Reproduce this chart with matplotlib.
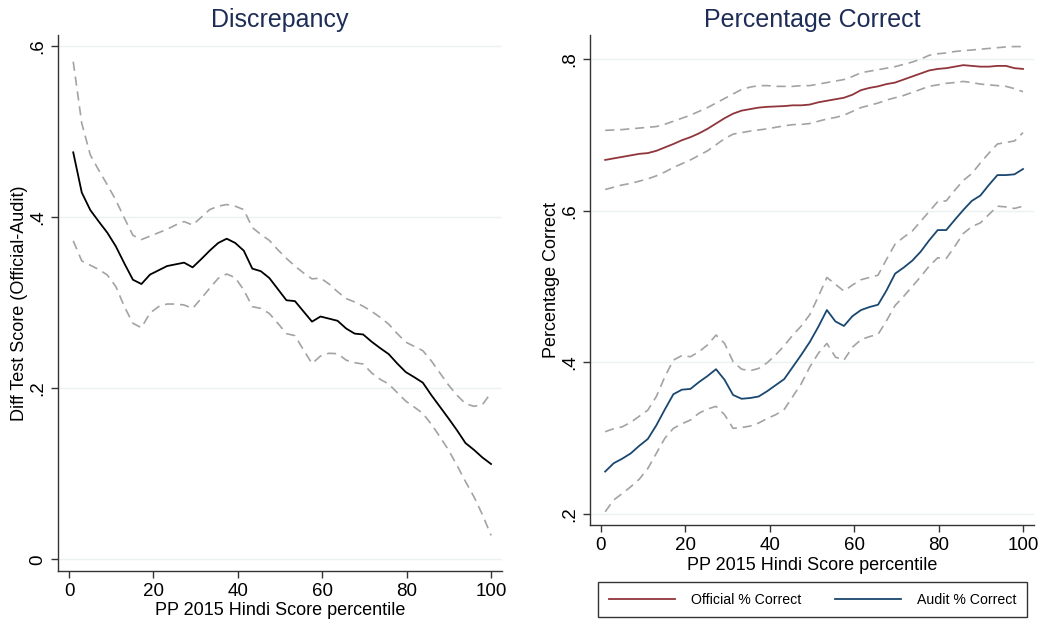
import numpy as np
import matplotlib
matplotlib.use("Agg")
import matplotlib.pyplot as plt

plt.rcParams['font.family'] = ['Liberation Sans', 'DejaVu Sans']

# percentile grid (50 points from 1 to 100)
pct = np.linspace(1, 100, 50)

# discrepancy: official minus audit score, with 95% band
diff_mean = [0.476, 0.429, 0.4085, 0.395, 0.382, 0.366, 0.346, 0.327, 0.322, 0.333,
             0.338, 0.343, 0.345, 0.347, 0.3415, 0.351, 0.361, 0.370, 0.375, 0.370,
             0.361, 0.340, 0.337, 0.329, 0.316, 0.303, 0.302, 0.290, 0.278, 0.284,
             0.2815, 0.279, 0.270, 0.264, 0.263, 0.2545, 0.247, 0.240, 0.229, 0.219,
             0.213, 0.2066, 0.192, 0.1785, 0.165, 0.151, 0.136, 0.128, 0.119, 0.1115]
diff_hi = [0.582, 0.51, 0.473, 0.455, 0.438, 0.42, 0.399, 0.379, 0.374, 0.378,
           0.382, 0.386, 0.391, 0.395, 0.391, 0.40, 0.409, 0.413, 0.415, 0.413,
           0.409, 0.388, 0.380, 0.373, 0.362, 0.352, 0.343, 0.335, 0.328, 0.329,
           0.322, 0.313, 0.305, 0.301, 0.296, 0.290, 0.283, 0.275, 0.264, 0.254,
           0.249, 0.244, 0.232, 0.218, 0.204, 0.192, 0.182, 0.179, 0.181, 0.195]
diff_lo = [0.3725, 0.349, 0.344, 0.339, 0.3325, 0.319, 0.2955, 0.276, 0.271, 0.288,
           0.2955, 0.2986, 0.2986, 0.2975, 0.2935, 0.305, 0.317, 0.3286, 0.3337, 0.3294,
           0.315, 0.2955, 0.2935, 0.2875, 0.276, 0.264, 0.2616, 0.245, 0.229, 0.2378,
           0.241, 0.2405, 0.233, 0.230, 0.2284, 0.218, 0.2105, 0.205, 0.195, 0.185,
           0.178, 0.1707, 0.158, 0.1434, 0.128, 0.110, 0.091, 0.073, 0.052, 0.028]

# share correct, official records
off_mean = [0.667, 0.669, 0.671, 0.673, 0.675, 0.676, 0.679, 0.6835, 0.688, 0.693,
            0.697, 0.702, 0.708, 0.715, 0.722, 0.728, 0.732, 0.734, 0.736, 0.737,
            0.7375, 0.738, 0.739, 0.739, 0.740, 0.743, 0.745, 0.747, 0.749, 0.753,
            0.759, 0.762, 0.764, 0.767, 0.769, 0.773, 0.777, 0.781, 0.785, 0.787,
            0.788, 0.790, 0.792, 0.791, 0.790, 0.790, 0.791, 0.791, 0.788, 0.787]
off_hi = [0.706, 0.7065, 0.707, 0.708, 0.709, 0.710, 0.711, 0.714, 0.718, 0.722,
          0.726, 0.731, 0.736, 0.742, 0.748, 0.754, 0.760, 0.763, 0.765, 0.765,
          0.764, 0.764, 0.764, 0.765, 0.765, 0.767, 0.769, 0.771, 0.773, 0.777,
          0.782, 0.784, 0.786, 0.788, 0.790, 0.793, 0.796, 0.800, 0.805, 0.807,
          0.808, 0.810, 0.811, 0.812, 0.813, 0.814, 0.815, 0.816, 0.8165, 0.8165]
off_lo = [0.628, 0.631, 0.634, 0.636, 0.639, 0.642, 0.646, 0.651, 0.657, 0.662,
          0.667, 0.673, 0.679, 0.687, 0.695, 0.701, 0.703, 0.705, 0.7065, 0.708,
          0.710, 0.712, 0.7135, 0.7138, 0.715, 0.718, 0.721, 0.723, 0.726, 0.731,
          0.736, 0.739, 0.742, 0.746, 0.749, 0.752, 0.756, 0.760, 0.764, 0.766,
          0.768, 0.769, 0.7705, 0.769, 0.767, 0.766, 0.765, 0.764, 0.761, 0.757]

# share correct, audit retest
aud_mean = [0.256, 0.267, 0.273, 0.280, 0.290, 0.299, 0.317, 0.338, 0.358, 0.364,
            0.365, 0.374, 0.382, 0.391, 0.377, 0.357, 0.352, 0.353, 0.355, 0.362,
            0.370, 0.378, 0.394, 0.410, 0.427, 0.447, 0.469, 0.454, 0.448, 0.461,
            0.469, 0.473, 0.476, 0.495, 0.517, 0.525, 0.534, 0.546, 0.561, 0.5745,
            0.5745, 0.588, 0.601, 0.613, 0.620, 0.634, 0.647, 0.647, 0.648, 0.655]
aud_hi = [0.3085, 0.3125, 0.315, 0.321, 0.329, 0.337, 0.355, 0.381, 0.403, 0.409,
          0.4075, 0.414, 0.423, 0.436, 0.425, 0.401, 0.391, 0.389, 0.392, 0.3995,
          0.410, 0.422, 0.436, 0.448, 0.463, 0.487, 0.512, 0.503, 0.494, 0.502,
          0.509, 0.512, 0.515, 0.536, 0.556, 0.565, 0.573, 0.586, 0.599, 0.612,
          0.613, 0.627, 0.640, 0.649, 0.663, 0.676, 0.688, 0.690, 0.692, 0.703]
aud_lo = [0.203, 0.2185, 0.227, 0.236, 0.246, 0.260, 0.280, 0.300, 0.313, 0.319,
          0.324, 0.333, 0.3385, 0.342, 0.331, 0.313, 0.314, 0.316, 0.320, 0.326,
          0.331, 0.338, 0.355, 0.372, 0.394, 0.412, 0.425, 0.407, 0.403, 0.420,
          0.430, 0.434, 0.437, 0.455, 0.475, 0.487, 0.500, 0.513, 0.527, 0.538,
          0.537, 0.553, 0.570, 0.579, 0.584, 0.595, 0.606, 0.605, 0.603, 0.606]

NAVY = '#1A476F'
MAROON = '#90353B'
CI_GRAY = '#A3A3A3'
GRID = '#EAF2F3'
TITLE_COL = '#1E2D58'
DASH = (0, (5.5, 3.5))
TICK_FS = 13.5
LABEL_FS = 13


def style_axis(ax):
    ax.spines['top'].set_visible(False)
    ax.spines['right'].set_visible(False)
    for s in ('left', 'bottom'):
        ax.spines[s].set_color('#333333')
        ax.spines[s].set_linewidth(1.0)
    ax.grid(axis='y', color=GRID, linewidth=1.0)
    ax.set_axisbelow(True)
    ax.tick_params(direction='out', length=5, width=1.0, color='#333333',
                   labelsize=TICK_FS, pad=3.5)
    for lab in ax.get_yticklabels():
        lab.set_rotation(90)
        lab.set_va('center')
    ax.set_xticks([0, 20, 40, 60, 80, 100])
    ax.set_xlim(-2.6, 102.6)


fig = plt.figure(figsize=(10.42, 6.2), dpi=100)
ax1 = fig.add_axes([0.0557, 0.0795, 0.4261, 0.864])
ax2 = fig.add_axes([0.5662, 0.1527, 0.4261, 0.7908])

# left: discrepancy
ax1.plot(pct, diff_hi, color=CI_GRAY, lw=1.2, linestyle=DASH)
ax1.plot(pct, diff_lo, color=CI_GRAY, lw=1.2, linestyle=DASH)
ax1.plot(pct, diff_mean, color='black', lw=1.3)
ax1.set_ylim(-0.0133, 0.6132)
ax1.set_yticks([0, 0.2, 0.4, 0.6])
ax1.set_yticklabels(['0', '.2', '.4', '.6'])
style_axis(ax1)
ax1.set_title('Discrepancy', fontsize=18, color=TITLE_COL, pad=6)
ax1.set_xlabel('PP 2015 Hindi Score percentile', fontsize=LABEL_FS, labelpad=2)
ax1.set_ylabel('Diff Test Score (Official-Audit)', fontsize=LABEL_FS, labelpad=1)

# right: share correct
ax2.plot(pct, off_hi, color=CI_GRAY, lw=1.2, linestyle=DASH)
ax2.plot(pct, off_lo, color=CI_GRAY, lw=1.2, linestyle=DASH)
ax2.plot(pct, aud_hi, color=CI_GRAY, lw=1.2, linestyle=DASH)
ax2.plot(pct, aud_lo, color=CI_GRAY, lw=1.2, linestyle=DASH)
l_off, = ax2.plot(pct, off_mean, color=MAROON, lw=1.3, label='Official % Correct')
l_aud, = ax2.plot(pct, aud_mean, color=NAVY, lw=1.3, label='Audit % Correct')
ax2.set_ylim(0.1851, 0.8317)
ax2.set_yticks([0.2, 0.4, 0.6, 0.8])
ax2.set_yticklabels(['.2', '.4', '.6', '.8'])
style_axis(ax2)
ax2.set_title('Percentage Correct', fontsize=18, color=TITLE_COL, pad=6)
ax2.set_xlabel('PP 2015 Hindi Score percentile', fontsize=LABEL_FS, labelpad=2)
ax2.set_ylabel('Percentage Correct', fontsize=LABEL_FS, labelpad=1)

leg = fig.legend(handles=[l_off, l_aud], loc='center', ncol=2,
                 bbox_to_anchor=(598 / 1042, 4 / 620, 429 / 1042, 33 / 620),
                 mode='expand', fontsize=10.2, handlelength=4.7, handletextpad=1.1,
                 columnspacing=2.7, borderpad=0.75, frameon=True, fancybox=False,
                 borderaxespad=0)
leg.get_frame().set_edgecolor('black')
leg.get_frame().set_linewidth(1.0)

fig.savefig('out.png', dpi=100)
